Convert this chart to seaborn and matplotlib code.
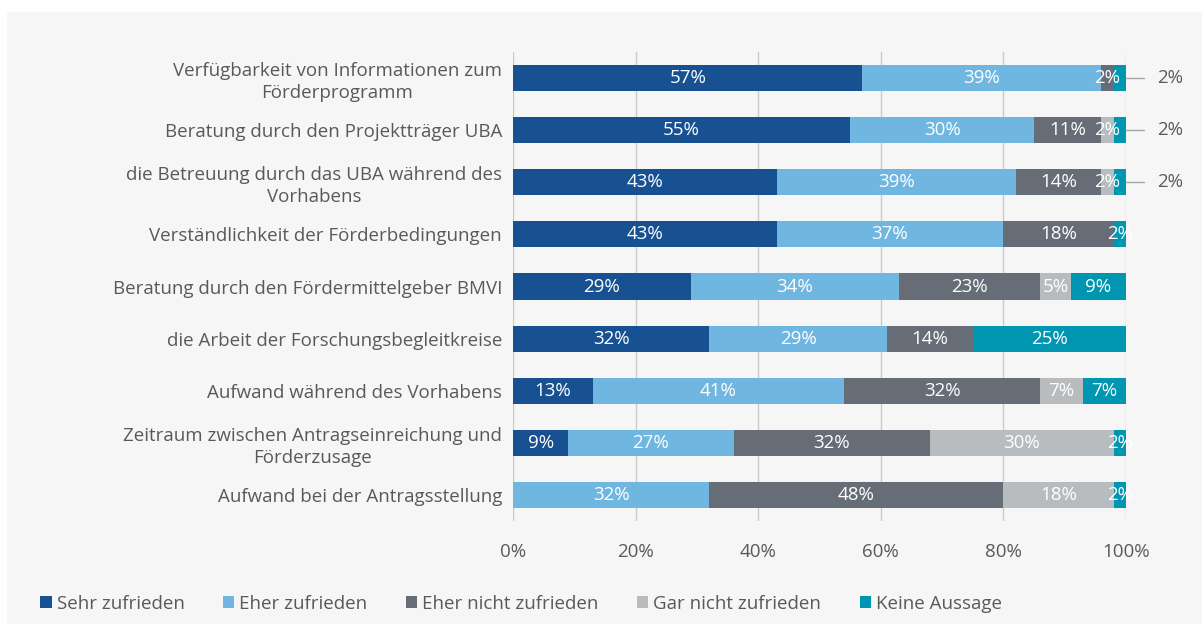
import matplotlib
matplotlib.use("Agg")
import matplotlib.pyplot as plt
import seaborn as sns
import pandas as pd
import numpy as np
from matplotlib.patches import Rectangle

categories = [
    "Verfügbarkeit von Informationen zum\nFörderprogramm",
    "Beratung durch den Projektträger UBA",
    "die Betreuung durch das UBA während des\nVorhabens",
    "Verständlichkeit der Förderbedingungen",
    "Beratung durch den Fördermittelgeber BMVI",
    "die Arbeit der Forschungsbegleitkreise",
    "Aufwand während des Vorhabens",
    "Zeitraum zwischen Antragseinreichung und\nFörderzusage",
    "Aufwand bei der Antragsstellung",
]
series_names = ["Sehr zufrieden", "Eher zufrieden", "Eher nicht zufrieden",
                "Gar nicht zufrieden", "Keine Aussage"]
sehr_zufrieden = [57, 55, 43, 43, 29, 32, 13, 9, 0]
eher_zufrieden = [39, 30, 39, 37, 34, 29, 41, 27, 32]
eher_nicht_zufrieden = [2, 11, 14, 18, 23, 14, 32, 32, 48]
gar_nicht_zufrieden = [0, 2, 2, 0, 5, 0, 7, 30, 18]
keine_aussage = [2, 2, 2, 2, 9, 25, 7, 2, 2]
# rows whose last value is shown as an outside callout
callout_rows = [0, 1, 2]
x_ticks = [0, 20, 40, 60, 80, 100]
x_tick_labels = ["0%", "20%", "40%", "60%", "80%", "100%"]

colors = ["#185191", "#6fb6e0", "#666d77", "#b8bcbe", "#0095b1"]
text_gray = "#595959"

values = np.array([sehr_zufrieden, eher_zufrieden, eher_nicht_zufrieden,
                   gar_nicht_zufrieden, keine_aussage], dtype=float)
cum = np.cumsum(values, axis=0)

sns.set_theme(style="white")
plt.rcParams["font.family"] = ["Open Sans", "DejaVu Sans"]
FS = 13.5

fig = plt.figure(figsize=(12.02, 6.24), dpi=100, facecolor="white")
fig.patches.append(Rectangle((7 / 1202, 0), 1, 612 / 624, transform=fig.transFigure,
                             facecolor="#f6f6f6", edgecolor="none", zorder=-10))
ax = fig.add_axes([513 / 1202, 1 - 521 / 624, 613 / 1202, (521 - 52) / 624])
ax.set_facecolor("none")

# draw cumulative layers from the outermost to the innermost
for i in range(len(series_names) - 1, -1, -1):
    df = pd.DataFrame({"Kategorie": categories, "Wert": cum[i]})
    sns.barplot(data=df, x="Wert", y="Kategorie", orient="h", color=colors[i],
                saturation=1, width=0.5, linewidth=0, ax=ax, zorder=3)

# labels
for r in range(len(categories)):
    for i in range(len(series_names)):
        v = values[i, r]
        if v <= 0:
            continue
        center = cum[i, r] - v / 2
        if i == len(series_names) - 1 and r in callout_rows:
            ax.plot([cum[i, r], cum[i, r] + 3], [r, r], color="#a6a6a6", lw=1,
                    clip_on=False, zorder=4)
            ax.text(cum[i, r] + 5, r, f"{int(v)}%", ha="left", va="center",
                    color=text_gray, fontsize=FS, clip_on=False)
            continue
        ax.text(center, r, f"{int(v)}%", ha="center", va="center", color="white",
                fontsize=FS, zorder=5)

ax.set_xlim(0, 100)
ax.set_ylim(len(categories) - 0.5, -0.5)
ax.set_xticks(x_ticks)
ax.set_xticklabels(x_tick_labels)
ax.set_xlabel("")
ax.set_ylabel("")
ax.grid(axis="x", color="#c9c9c9", lw=1, zorder=0)
ax.grid(axis="y", visible=False)
for s in ax.spines.values():
    s.set_visible(False)
ax.tick_params(axis="both", length=0, colors=text_gray, labelsize=FS)
ax.tick_params(axis="x", pad=16)
ax.tick_params(axis="y", pad=8)
for lab in ax.get_yticklabels():
    lab.set_multialignment("center")
    lab.set_linespacing(1.3)

handles = [Rectangle((0, 0), 1, 1, facecolor=c, edgecolor="none") for c in colors]
fig.legend(handles, series_names, loc="center left", bbox_to_anchor=(0.0195, 1 - 604 / 624),
           ncol=5, frameon=False, fontsize=FS, handlelength=0.6, handleheight=0.6,
           handletextpad=0.27, columnspacing=2.05, labelcolor=text_gray)

fig.savefig("out.png", dpi=100, facecolor="white")
